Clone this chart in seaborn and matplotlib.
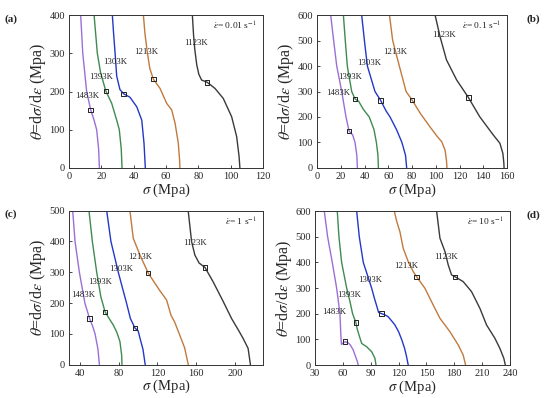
import matplotlib
matplotlib.use('Agg')
import matplotlib.pyplot as plt
import seaborn as sns

temps = ['1123K', '1213K', '1303K', '1393K', '1483K']
cores = {'1123K': '#3a3a3a', '1213K': '#c07a3e', '1303K': '#2438c8',
         '1393K': '#3f8a52', '1483K': '#9a6fd8'}

# (a) 0.01 s-1
a_1483_s = [7.2, 8.5, 10.9, 13.4, 15.5, 17.1, 18.3, 18.8]
a_1483_t = [400, 300, 200, 152, 125, 100, 50, 0]
a_1393_s = [15.5, 16.5, 17.5, 19.5, 22.7, 26.4, 29.5, 31.1, 32.3, 32.8]
a_1393_t = [400, 350, 300, 250, 202, 169, 125, 100, 50, 0]
a_1303_s = [26.8, 27.6, 28.5, 29.5, 31.5, 33.8, 37.7, 41.9, 45, 46.4, 47.2]
a_1303_t = [400, 350, 300, 240, 205, 194, 185, 160, 125, 64, 0]
a_1213_s = [46, 47, 48.5, 50, 52.2, 56.3, 60.4, 63.5, 65.6, 67.6, 68.4, 68.6]
a_1213_t = [400, 350, 300, 260, 232, 208, 169, 152, 117, 65, 20, 0]
a_1123_s = [76.3, 77, 77.8, 79, 80.3, 82, 85.5, 90.3, 95.4, 100.6, 103.7, 105.2, 105.7]
a_1123_t = [400, 350, 310, 270, 245, 230, 224, 208, 182, 134, 82, 30, 0]
a_mark_s = [13.4, 22.7, 33.8, 52.2, 85.5]
a_mark_t = [152, 202, 194, 232, 224]

# (b) 0.1 s-1
b_1483_s = [11.5, 14, 16.6, 20.8, 24.4, 27, 30, 32, 33.5, 34]
b_1483_t = [600, 500, 400, 300, 200, 145, 130, 100, 50, 0]
b_1393_s = [22.2, 23.8, 25.5, 29.2, 32, 35, 39, 44, 48, 50, 51.3, 51.7]
b_1393_t = [600, 500, 400, 300, 271, 262, 230, 200, 150, 100, 50, 0]
b_1303_s = [37.6, 39.9, 42.4, 48.8, 53.6, 58, 61.5, 67, 71.5, 74.5, 75.5]
b_1303_t = [600, 500, 400, 300, 265, 225, 200, 150, 100, 50, 0]
b_1213_s = [61, 63.7, 69.3, 75, 80, 87, 95, 101, 105, 107.8, 109, 109.4]
b_1213_t = [600, 500, 400, 300, 267, 214, 162, 125, 103, 70, 30, 0]
b_1123_s = [99.4, 103.6, 109, 117.6, 127.4, 137, 148.5, 154, 156.5, 157.3, 157.5]
b_1123_t = [600, 515, 424, 345, 277, 201, 129, 97, 57, 20, 0]
b_mark_s = [27, 32, 53.6, 80, 127.4]
b_mark_t = [145, 271, 265, 267, 277]

# (c) 1 s-1
c_1483_s = [32.4, 34.8, 39.3, 45, 49.8, 53, 55.5, 58.5, 60]
c_1483_t = [500, 400, 300, 200, 150, 125, 100, 50, 0]
c_1393_s = [49.2, 52.7, 57.2, 61.5, 65.8, 70, 74.3, 78, 81.2, 83, 83.3]
c_1393_t = [500, 400, 300, 220, 172, 150, 129, 105, 75, 30, 0]
c_1303_s = [67.5, 71.9, 79.5, 88, 92, 96.7, 100, 102, 105, 107.3]
c_1303_t = [500, 400, 300, 200, 150, 119, 110, 85, 50, 0]
c_1213_s = [91.5, 95, 101.9, 110.5, 122.5, 129.4, 134, 137.5, 142.5, 148, 151.8]
c_1213_t = [500, 410, 356, 297, 240, 210, 160, 140, 100, 55, 0]
c_1123_s = [151.7, 155.2, 158.6, 163, 169, 177.5, 187.9, 196.5, 204, 208.5, 213.6, 216]
c_1123_t = [500, 400, 356, 330, 316, 269, 205, 150, 110, 85, 53, 0]
c_mark_s = [49.8, 65.8, 96.7, 110.5, 169]
c_mark_t = [150, 172, 119, 297, 316]

# (d) 10 s-1
d_1483_s = [40, 43.6, 48.6, 53.3, 56.9, 57.8, 58.5, 60, 62.5, 66, 68, 71, 73, 75.5, 76.6]
d_1483_t = [600, 500, 400, 300, 200, 120, 80, 85, 91, 86, 78, 60, 40, 15, 0]
d_1393_s = [54, 55.8, 58.7, 64.1, 67.7, 70.5, 74.1, 75.5, 77.4, 80.3, 85.7, 91, 94.6, 95.7]
d_1393_t = [600, 500, 400, 300, 247, 200, 165, 140, 117, 84, 71, 52, 26, 0]
d_1303_s = [74.9, 77.7, 82, 91, 94, 96.5, 98.5, 101.8, 105, 108.9, 113, 116.1, 120, 123.3, 126.5, 128.5, 130.4]
d_1303_t = [600, 500, 400, 300, 260, 230, 205, 200, 196, 188, 170, 156, 130, 100, 65, 35, 0]
d_1213_s = [115.4, 118, 121.5, 125, 130.4, 135.8, 139.5, 148.4, 157.3, 164.6, 175.3, 184.3, 189.6, 192.2]
d_1213_t = [600, 560, 519, 455, 403, 364, 344, 299, 234, 182, 130, 78, 39, 0]
d_1123_s = [161, 164.6, 170, 173.5, 177.1, 180.7, 189.6, 198.6, 207.6, 214.8, 223.8, 229.1, 233.4, 235]
d_1123_t = [600, 494, 442, 390, 351, 344, 325, 286, 221, 156, 104, 65, 26, 0]
d_mark_s = [62.5, 74.1, 101.8, 139.5, 180.7]
d_mark_t = [91, 165, 200, 344, 344]

paineis = [
    ('(a)', r'$\dot{\varepsilon}$= 0.01 s$^{-1}$', (0, 120), (0, 400), range(0, 121, 20), range(0, 401, 100),
     {'1123K': (a_1123_s, a_1123_t), '1213K': (a_1213_s, a_1213_t), '1303K': (a_1303_s, a_1303_t),
      '1393K': (a_1393_s, a_1393_t), '1483K': (a_1483_s, a_1483_t)},
     (a_mark_s, a_mark_t),
     {'1483K': (11.4, 188), '1393K': (19.9, 239), '1303K': (28.8, 276), '1213K': (48, 304), '1123K': (78.4, 326)}),
    ('(b)', r'$\dot{\varepsilon}$= 0.1 s$^{-1}$', (0, 160), (0, 600), range(0, 161, 20), range(0, 601, 100),
     {'1123K': (b_1123_s, b_1123_t), '1213K': (b_1213_s, b_1213_t), '1303K': (b_1303_s, b_1303_t),
      '1393K': (b_1393_s, b_1393_t), '1483K': (b_1483_s, b_1483_t)},
     (b_mark_s, b_mark_t),
     {'1483K': (17.7, 295), '1393K': (27.8, 358), '1303K': (44, 412), '1213K': (66, 456), '1123K': (107, 521)}),
    ('(c)', r'$\dot{\varepsilon}$= 1 s$^{-1}$', (28.6, 229), (0, 500), range(40, 201, 40), range(0, 501, 100),
     {'1123K': (c_1123_s, c_1123_t), '1213K': (c_1213_s, c_1213_t), '1303K': (c_1303_s, c_1303_t),
      '1393K': (c_1393_s, c_1393_t), '1483K': (c_1483_s, c_1483_t)},
     (c_mark_s, c_mark_t),
     {'1483K': (43.6, 226), '1393K': (60.6, 269), '1303K': (82.6, 310), '1213K': (101.9, 351), '1123K': (158.6, 394)}),
    ('(d)', r'$\dot{\varepsilon}$= 10 s$^{-1}$', (30, 240), (0, 600), range(30, 241, 30), range(0, 601, 100),
     {'1123K': (d_1123_s, d_1123_t), '1213K': (d_1213_s, d_1213_t), '1303K': (d_1303_s, d_1303_t),
      '1393K': (d_1393_s, d_1393_t), '1483K': (d_1483_s, d_1483_t)},
     (d_mark_s, d_mark_t),
     {'1483K': (50.5, 208), '1393K': (66.6, 273), '1303K': (89.2, 331), '1213K': (128, 386), '1123K': (171, 422)}),
]

sns.set_style('ticks')
plt.rcParams['font.family'] = ['Liberation Serif', 'DejaVu Serif']
plt.rcParams['mathtext.fontset'] = 'stix'
plt.rcParams['xtick.direction'] = 'in'
plt.rcParams['ytick.direction'] = 'in'

fig = plt.figure(figsize=(5.5, 3.98), dpi=100)
# posicoes dos quatro eixos [esq, baixo, larg, alt]
posicoes = [[0.1255, 0.5779, 0.3527, 0.3844],
            [0.5764, 0.5779, 0.3455, 0.3844],
            [0.1255, 0.0837, 0.3527, 0.3869],
            [0.5727, 0.0829, 0.3545, 0.3869]]
letras_x = [0.008, 0.958, 0.008, 0.958]

for i, (letra, taxa, xl, yl, xt, yt, curvas, marcas, rotulos) in enumerate(paineis):
    ax = fig.add_axes(posicoes[i])
    for t in temps:
        s, th = curvas[t]
        sns.lineplot(x=s, y=th, sort=False, color=cores[t], lw=1.0, ax=ax, estimator=None)
        ax.text(rotulos[t][0], rotulos[t][1], t, fontsize=6.3, ha='center', va='center', color='#222222')
    sns.scatterplot(x=marcas[0], y=marcas[1], marker='s', s=10, facecolor='none',
                    edgecolor='#222222', linewidth=0.7, ax=ax, zorder=5)
    ax.set_xlim(xl)
    ax.set_ylim(yl)
    ax.set_xticks(list(xt))
    ax.set_yticks(list(yt))
    ax.tick_params(labelsize=7.5, length=2.5, width=0.6, pad=3)
    for sp in ax.spines.values():
        sp.set_linewidth(0.7)
        sp.set_color('#333333')
    ax.set_xlabel(r'$\sigma$ (Mpa)', fontsize=10.5, labelpad=0)
    ax.set_ylabel(r'$\theta$=d$\sigma$/d$\varepsilon$ (Mpa)', fontsize=11.5, labelpad=1)
    ax.text(0.97, 0.93, taxa, transform=ax.transAxes, ha='right', va='center', fontsize=6.8)
    y_letra = posicoes[i][1] + posicoes[i][3] - 0.01
    fig.text(letras_x[i], y_letra, letra, fontsize=8, fontweight='bold', va='center')

plt.savefig('out.png', dpi=100)
